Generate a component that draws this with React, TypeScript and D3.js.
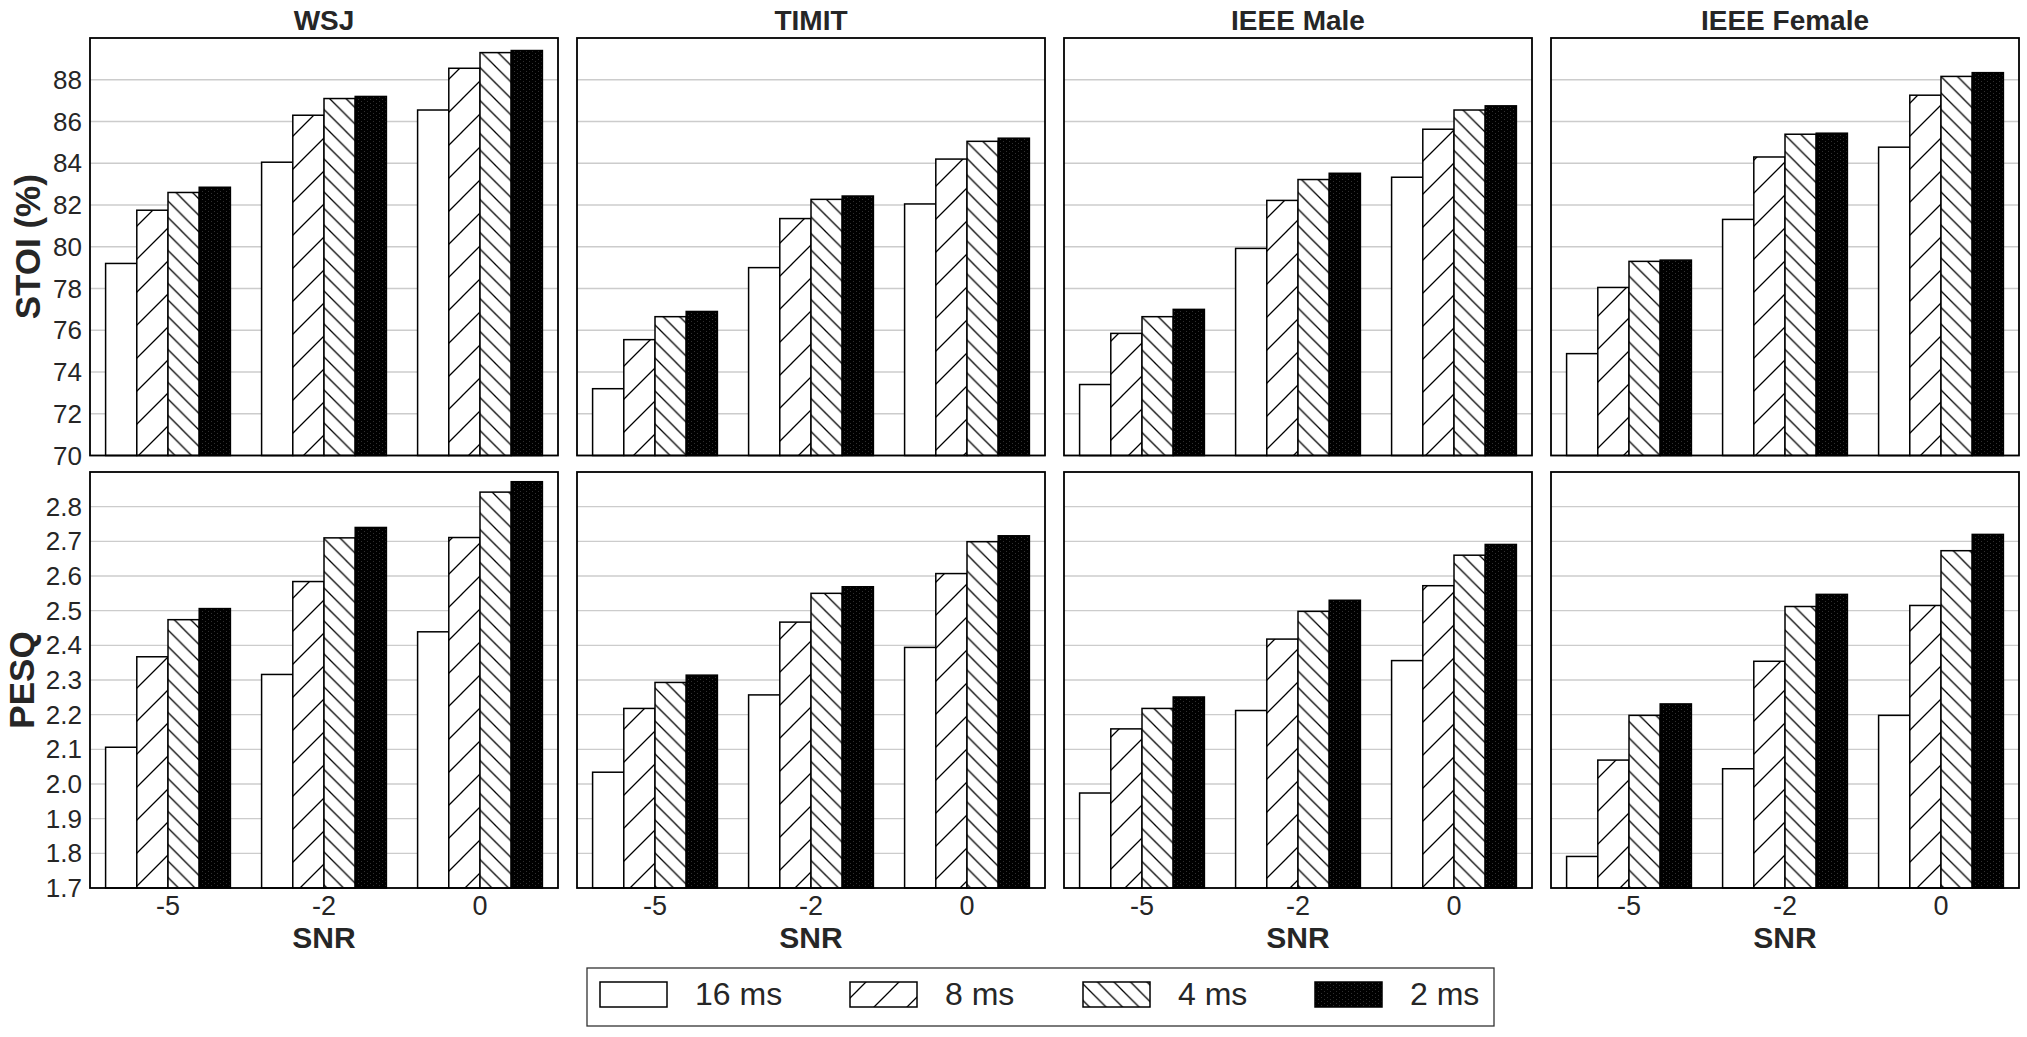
import React from "react";
import * as d3 from "d3";

// values, one row per SNR level, columns = frame size
const datasets = ["WSJ", "TIMIT", "IEEE Male", "IEEE Female"];
const snrLabels = ["-5", "-2", "0"];
const frameSizes = ["16 ms", "8 ms", "4 ms", "2 ms"];

const stoiWSJ = [
	[79.2, 81.75, 82.6, 82.85],
	[84.05, 86.3, 87.1, 87.2],
	[86.55, 88.55, 89.3, 89.4],
];
const stoiTIMIT = [
	[73.2, 75.55, 76.65, 76.9],
	[79.0, 81.35, 82.27, 82.43],
	[82.05, 84.2, 85.05, 85.2],
];
const stoiMale = [
	[73.4, 75.85, 76.65, 77.0],
	[79.92, 82.22, 83.22, 83.52],
	[83.33, 85.63, 86.55, 86.75],
];
const stoiFemale = [
	[74.88, 78.05, 79.3, 79.36],
	[81.31, 84.3, 85.39, 85.44],
	[84.77, 87.26, 88.16, 88.34],
];

const pesqWSJ = [
	[2.106, 2.367, 2.474, 2.506],
	[2.316, 2.584, 2.71, 2.74],
	[2.439, 2.711, 2.842, 2.872],
];
const pesqTIMIT = [
	[2.034, 2.218, 2.293, 2.314],
	[2.257, 2.467, 2.55, 2.569],
	[2.394, 2.607, 2.699, 2.716],
];
const pesqMale = [
	[1.974, 2.159, 2.218, 2.251],
	[2.212, 2.418, 2.498, 2.53],
	[2.356, 2.572, 2.66, 2.691],
];
const pesqFemale = [
	[1.791, 2.069, 2.198, 2.231],
	[2.044, 2.354, 2.512, 2.547],
	[2.198, 2.515, 2.673, 2.72],
];

const stoiTicks = [70, 72, 74, 76, 78, 80, 82, 84, 86, 88];
const pesqTicks = [1.7, 1.8, 1.9, 2.0, 2.1, 2.2, 2.3, 2.4, 2.5, 2.6, 2.7, 2.8];

const W = 2027;
const H = 1037;
const FONT = "'Liberation Sans', Arial, Helvetica, sans-serif";
const TEXT = "#262626";

const panelLeft = 90;
const panelStep = 487;
const panelW = 468;
const rows = [
	{label: "STOI (%)", labelX: 40, top: 38, bottom: 455.5, domain: [70, 90], ticks: stoiTicks, fmt: d3.format("d"), data: [stoiWSJ, stoiTIMIT, stoiMale, stoiFemale]},
	{label: "PESQ", labelX: 34, top: 472, bottom: 888, domain: [1.7, 2.9], ticks: pesqTicks, fmt: d3.format(".1f"), data: [pesqWSJ, pesqTIMIT, pesqMale, pesqFemale]},
];

const fills = ["#fff", "url(#hatchFwd)", "url(#hatchBack)", "url(#dotsBlack)"];
const barW = 0.2;

const Defs = () => (
	<defs>
		<pattern id="hatchFwd" patternUnits="userSpaceOnUse" width={33} height={33}>
			<rect width={33} height={33} fill="#fff" />
			<path d="M0,33 L33,0 M-4,4 L4,-4 M29,37 L37,29" stroke="#000" strokeWidth={1.3} />
		</pattern>
		<pattern id="hatchBack" patternUnits="userSpaceOnUse" width={16.5} height={16.5}>
			<rect width={16.5} height={16.5} fill="#fff" />
			<path d="M0,0 L16.5,16.5 M-4,12.5 L4,20.5 M12.5,-4 L20.5,4" stroke="#000" strokeWidth={1.3} />
		</pattern>
		<pattern id="dotsBlack" patternUnits="userSpaceOnUse" width={6} height={4}>
			<rect width={6} height={4} fill="#000" />
			<rect x={1} y={1} width={0.8} height={0.8} fill="#4a4a4a" />
			<rect x={4} y={3} width={0.8} height={0.8} fill="#4a4a4a" />
		</pattern>
	</defs>
);

const Panel = ({col, row}: {col: number; row: typeof rows[number]}) => {
	const x0 = panelLeft + col * panelStep;
	const x = d3.scaleLinear().domain([-0.5, 2.5]).range([x0, x0 + panelW]);
	const y = d3.scaleLinear().domain(row.domain).range([row.bottom, row.top]);
	const values = row.data[col];
	const isBottom = row.label === "PESQ";
	return (
		<g>
			{row.ticks.map((t) => (
				<line key={t} x1={x0} x2={x0 + panelW} y1={y(t)} y2={y(t)} stroke="#cccccc" strokeWidth={1.4} />
			))}
			{values.map((group, gi) =>
				group.map((v, si) => {
					const bx = x(gi + (si - 1.5) * barW - barW / 2);
					const bw = x(barW) - x(0);
					return (
						<rect
							key={`${gi}-${si}`}
							x={bx}
							y={y(v)}
							width={bw}
							height={row.bottom - y(v)}
							fill={fills[si]}
							stroke="#000"
							strokeWidth={1.5}
						/>
					);
				})
			)}
			<rect x={x0} y={row.top} width={panelW} height={row.bottom - row.top} fill="none" stroke="#000" strokeWidth={1.8} />
			{col === 0 &&
				row.ticks.map((t) => (
					<text key={t} x={x0 - 8} y={y(t)} dy="0.35em" textAnchor="end" fontSize={26} fill={TEXT}>
						{row.fmt(t)}
					</text>
				))}
			{!isBottom && (
				<text x={x0 + panelW / 2} y={30} textAnchor="middle" fontSize={28} fontWeight="bold" fill={TEXT}>
					{datasets[col]}
				</text>
			)}
			{isBottom &&
				snrLabels.map((s, i) => (
					<text key={s} x={x(i)} y={915} textAnchor="middle" fontSize={27} fill={TEXT}>
						{s}
					</text>
				))}
			{isBottom && (
				<text x={x0 + panelW / 2} y={948} textAnchor="middle" fontSize={30} fontWeight="bold" fill={TEXT}>
					SNR
				</text>
			)}
		</g>
	);
};

const Legend = () => {
	const box = {x: 587, y: 968, w: 907, h: 58};
	const handleW = 67;
	const handleH = 25;
	const itemX = [600, 850, 1083, 1315];
	return (
		<g>
			<rect x={box.x} y={box.y} width={box.w} height={box.h} fill="#fff" stroke="#333" strokeWidth={1.3} />
			{frameSizes.map((f, i) => (
				<g key={f}>
					<rect x={itemX[i]} y={982} width={handleW} height={handleH} fill={fills[i]} stroke="#000" strokeWidth={1.5} />
					<text x={itemX[i] + handleW + 28} y={1005} fontSize={32} fill={TEXT}>
						{f}
					</text>
				</g>
			))}
		</g>
	);
};

export default function App() {
	return (
		<div style={{position: "absolute", left: 0, top: 0, background: "#fff"}}>
			<svg width={W} height={H} style={{display: "block", fontFamily: FONT}}>
				<Defs />
				<rect width={W} height={H} fill="#fff" />
				{rows.map((row) => (
					<g key={row.label}>
						{datasets.map((d, col) => (
							<Panel key={d} col={col} row={row} />
						))}
						<text
							transform={`translate(${row.labelX}, ${(row.top + row.bottom) / 2}) rotate(-90)`}
							textAnchor="middle"
							fontSize={35}
							fontWeight="bold"
							fill={TEXT}
						>
							{row.label}
						</text>
					</g>
				))}
				<Legend />
			</svg>
		</div>
	);
}
